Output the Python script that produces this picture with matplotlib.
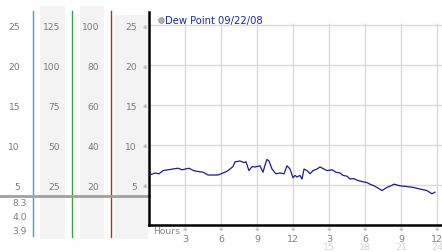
import matplotlib
matplotlib.use("Agg")
import matplotlib.pyplot as plt

# dew point trace (hours since midnight, value)
hours = [0.0, 0.5, 0.83, 1.17, 1.58, 2.0, 2.42, 2.75, 3.33, 3.58, 3.83, 4.5, 4.92,
         5.75, 6.33, 6.58, 6.75, 7.0, 7.17, 7.58, 7.92, 8.08, 8.33, 8.58, 8.83,
         9.25, 9.5, 9.67, 9.83, 10.0, 10.25, 10.58, 10.92, 11.25, 11.5, 11.75,
         12.0, 12.17, 12.33, 12.58, 12.75, 12.92, 13.17, 13.42, 13.67, 14.0,
         14.25, 14.58, 14.83, 15.25, 15.58, 15.92, 16.17, 16.5, 16.75, 17.08,
         17.33, 17.83, 18.17, 18.42, 18.75, 19.0, 19.42, 19.83, 20.17, 20.42,
         20.92, 21.5, 22.0, 22.58, 23.17, 23.58, 23.83]
dew = [6.2, 6.5, 6.4, 6.8, 6.9, 7.0, 7.1, 6.9, 7.1, 6.9, 6.75, 6.6, 6.25,
       6.25, 6.6, 6.8, 7.0, 7.3, 7.9, 8.0, 7.8, 7.9, 6.8, 7.3, 7.25,
       7.4, 6.6, 7.5, 8.2, 8.0, 7.0, 6.4, 6.5, 6.4, 7.4, 7.0,
       5.9, 6.2, 6.0, 6.2, 5.75, 7.0, 6.8, 6.4, 6.8, 7.0,
       7.25, 7.0, 6.8, 6.9, 6.6, 6.5, 6.2, 6.1, 5.75, 5.8,
       5.6, 5.4, 5.3, 5.1, 4.9, 4.7, 4.3, 4.7, 4.9, 5.1,
       4.9, 4.8, 4.7, 4.5, 4.3, 3.9, 4.1]

y_ticks = [5, 10, 15, 20, 25]
hour_ticks = [3, 6, 9, 12, 15, 18, 21, 24]
hour_labels = ["3", "6", "9", "12", "3", "6", "9", "12"]
pm_ticks = [15, 18, 21, 24]
pm_labels = ["15", "18", "21", "24"]

# side scales (left columns)
col1_labels = ["25", "20", "15", "10", "5"]
col2_labels = ["125", "100", "75", "50", "25"]
col3_labels = ["100", "80", "60", "40", "20"]
col4_labels = ["25", "20", "15", "10", "5"]
stats_labels = ["8.3", "4.0", "3.9"]

W, H = 442, 253
fig = plt.figure(figsize=(W / 100, H / 100), dpi=100)

# overlay axes in pixel coordinates for the decorations
ov = fig.add_axes([0, 0, 1, 1])
ov.set_xlim(0, W)
ov.set_ylim(H, 0)
ov.axis("off")

# main data axes: x 149..442 px, y 13..226 px
x0, x1 = 149, 442
ytop, ybot = 13, 226
ax = fig.add_axes([x0 / W, 1 - ybot / H, (x1 - x0) / W, (ybot - ytop) / H])
ax.patch.set_alpha(0)
ax.set_xlim(0, (x1 - x0) / 12)
ax.set_ylim(0, (ybot - ytop) / 8)

ax.hlines(y_ticks, 0, (x1 - x0) / 12, color="#d9d9d9", lw=1, zorder=1)
ax.vlines(hour_ticks, 0, 25.25, color="#d9d9d9", lw=1, zorder=1)
ax.plot(hours, dew, color="#1c1c8a", lw=0.9, zorder=3)

for s in ["top", "right"]:
    ax.spines[s].set_visible(False)
ax.spines["left"].set_linewidth(1.8)
ax.spines["bottom"].set_linewidth(1.8)
ax.set_xticks([])
ax.set_yticks([])

# gray columns
ov.add_patch(plt.Rectangle((40, 7), 25, 233, color="#f3f3f3", lw=0, zorder=0))
ov.add_patch(plt.Rectangle((80, 7), 24, 233, color="#f3f3f3", lw=0, zorder=0))
ov.add_patch(plt.Rectangle((115, 16), 33, 224, color="#f3f3f3", lw=0, zorder=0))

ov.plot([33, 33], [12, 237], color="#3a9fd0", lw=1)
ov.plot([72, 72], [12, 238], color="#3aa040", lw=1)
ov.plot([111, 111], [12, 238], color="#b03030", lw=1)
ov.plot([0, 149], [197, 197], color="#a0a0a0", lw=2)

gray = "#7a7a7a"
fs = 6.6
for i, v in enumerate(y_ticks[::-1]):
    py = 27 + 40 * i
    ov.text(20, py, col1_labels[i], ha="right", va="center", fontsize=fs, color=gray)
    ov.text(60, py, col2_labels[i], ha="right", va="center", fontsize=fs, color=gray)
    ov.text(99, py, col3_labels[i], ha="right", va="center", fontsize=fs, color=gray)
    ov.text(137, py, col4_labels[i], ha="right", va="center", fontsize=fs, color=gray)
    ov.text(145, py, "※", ha="center", va="center", fontsize=4, color="#909090")

for i, lab in enumerate(stats_labels):
    ov.text(27, 204 + 14 * i, lab, ha="right", va="center", fontsize=fs, color=gray)

# x labels
ov.text(153, 232, "Hours", ha="left", va="center", fontsize=6.6, color="#808080")
for h, lab in zip(hour_ticks, hour_labels):
    px = x0 + 12 * h
    ov.text(px, 230, "※", ha="center", va="center", fontsize=4, color="#909090")
    ov.text(px, 239.5, lab, ha="center", va="center", fontsize=6.8, color="#808080")
for h, lab in zip(pm_ticks, pm_labels):
    ov.text(x0 + 12 * h, 248, lab, ha="center", va="center", fontsize=6.8, color="#d4d4d4")

# legend
ov.plot([161], [20.5], "o", ms=4, color="#b0b0b0", mec="#909090", mew=0.6)
ov.text(165, 20.5, "Dew Point 09/22/08", ha="left", va="center", fontsize=7.2, color="#1c2aa0")

fig.savefig("out.png", dpi=100)
